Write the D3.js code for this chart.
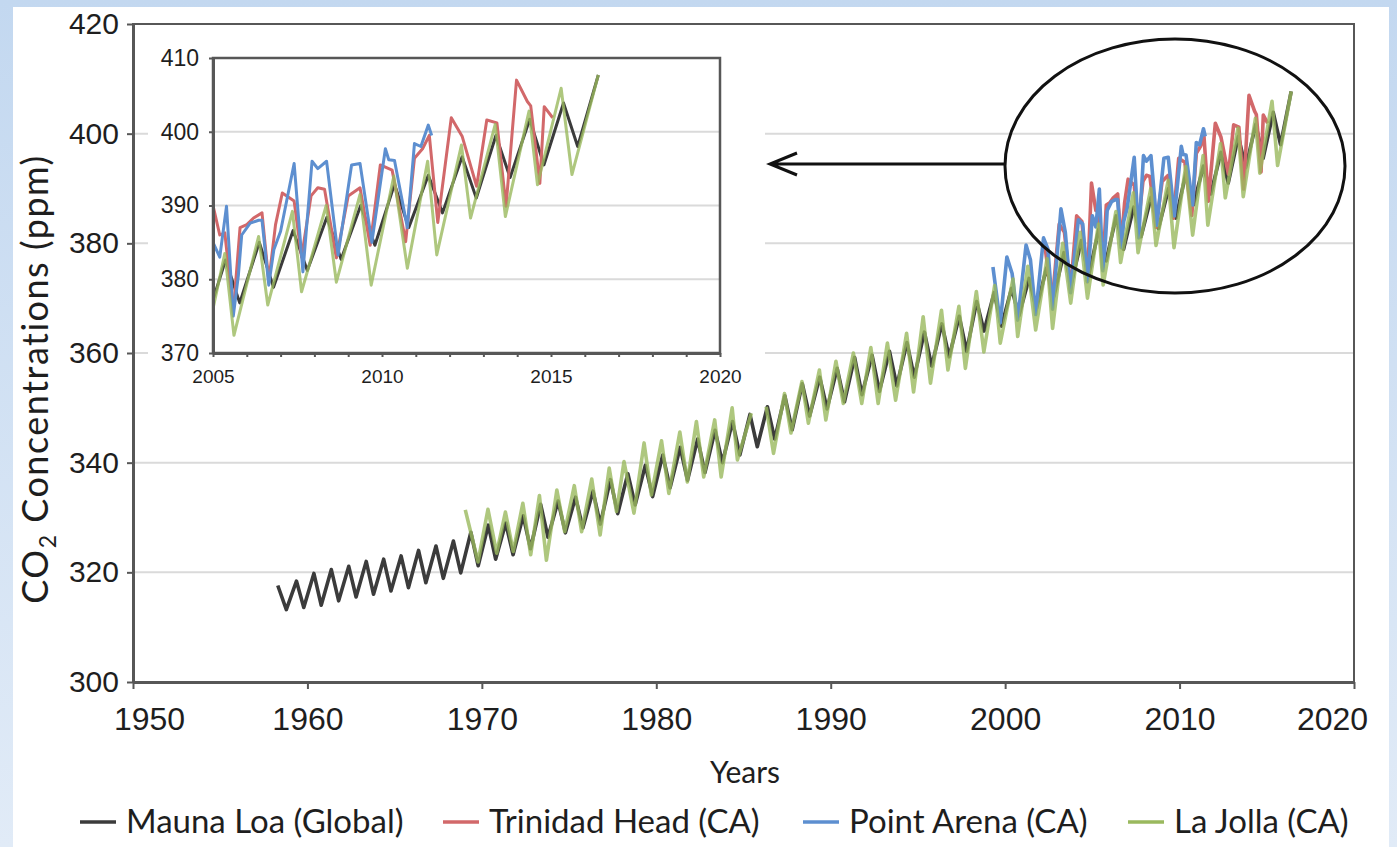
<!DOCTYPE html>
<html>
<head>
<meta charset="utf-8">
<script src="https://cdn.jsdelivr.net/npm/d3@7"></script>
<style>
  body { margin: 0; background: #fff; }
  svg { display: block; font-family: Lato, "Open Sans", sans-serif; }
</style>
</head>
<body>
<svg id="chart" width="1397" height="847"></svg>
<script>

// Monthly-ish CO2 readings [decimal year, ppm]
var maunaLoa = [
  [1958.30, 317.6], [1958.79, 313.2], [1959.37, 318.4], [1959.79, 313.6],
  [1960.37, 319.8], [1960.79, 314.0], [1961.37, 320.5], [1961.79, 314.8],
  [1962.37, 321.1], [1962.79, 315.5], [1963.37, 322.0], [1963.79, 316.0],
  [1964.37, 322.4], [1964.79, 316.6], [1965.37, 323.0], [1965.79, 317.2],
  [1966.37, 324.0], [1966.79, 318.1], [1967.37, 324.8], [1967.79, 318.9],
  [1968.37, 325.7], [1968.79, 319.9], [1969.37, 327.3], [1969.79, 321.2],
  [1970.37, 328.6], [1970.79, 322.4], [1971.37, 329.0], [1971.79, 323.2],
  [1972.37, 330.3], [1972.79, 324.3], [1973.37, 332.4], [1973.79, 326.4],
  [1974.37, 333.0], [1974.79, 327.2], [1975.37, 333.7], [1975.79, 328.1],
  [1976.37, 334.8], [1976.79, 328.8], [1977.37, 336.9], [1977.79, 330.7],
  [1978.37, 338.0], [1978.79, 332.3], [1979.37, 339.5], [1979.79, 333.8],
  [1980.37, 341.4], [1980.79, 335.4], [1981.37, 342.8], [1981.79, 336.8],
  [1982.37, 344.3], [1982.79, 338.2], [1983.37, 345.9], [1983.79, 340.0],
  [1984.37, 347.5], [1984.79, 341.4], [1985.37, 348.8], [1985.79, 342.9],
  [1986.37, 350.2], [1986.79, 344.3], [1987.37, 352.2], [1987.79, 346.0],
  [1988.37, 354.4], [1988.79, 348.5], [1989.37, 355.6], [1989.79, 349.8],
  [1990.37, 357.2], [1990.79, 351.1], [1991.37, 359.2], [1991.79, 352.4],
  [1992.37, 359.6], [1992.79, 353.0], [1993.37, 360.3], [1993.79, 354.0],
  [1994.37, 361.9], [1994.79, 355.6], [1995.37, 363.8], [1995.79, 357.6],
  [1996.37, 365.3], [1996.79, 359.3], [1997.37, 366.7], [1997.79, 360.3],
  [1998.37, 369.4], [1998.79, 364.0], [1999.37, 371.0], [1999.79, 364.9],
  [2000.37, 371.8], [2000.79, 366.8], [2001.37, 373.6], [2001.79, 368.0],
  [2002.37, 375.5], [2002.79, 370.3], [2003.37, 378.3], [2003.79, 372.6],
  [2004.37, 380.5], [2004.79, 374.1], [2005.37, 382.6], [2005.79, 376.8],
  [2006.37, 385.0], [2006.79, 378.9], [2007.37, 386.6], [2007.79, 381.2],
  [2008.37, 388.4], [2008.79, 382.7], [2009.37, 390.0], [2009.79, 384.6],
  [2010.37, 392.9], [2010.79, 387.0], [2011.37, 394.1], [2011.79, 389.0],
  [2012.37, 396.6], [2012.79, 391.0], [2013.37, 399.5], [2013.79, 393.8],
  [2014.37, 401.7], [2014.79, 395.5], [2015.37, 403.9], [2015.79, 398.0],
  [2016.40, 407.7]
];

var trinidadHead = [
  [2002.30, 379.0], [2002.70, 369.5], [2003.10, 383.5], [2003.40, 382.0],
  [2003.75, 371.5], [2004.10, 385.0], [2004.40, 384.0], [2004.72, 373.0],
  [2004.95, 391.0], [2005.05, 389.0], [2005.20, 386.0], [2005.35, 386.3],
  [2005.60, 375.5], [2005.80, 387.0], [2006.00, 387.4], [2006.20, 388.3],
  [2006.45, 389.0], [2006.65, 379.7], [2006.85, 387.4], [2007.05, 391.7],
  [2007.40, 390.6], [2007.62, 383.0], [2007.90, 391.3], [2008.10, 392.4],
  [2008.30, 392.2], [2008.65, 382.9], [2009.00, 391.3], [2009.35, 392.4],
  [2009.65, 384.6], [2009.95, 395.5], [2010.30, 394.8], [2010.70, 385.1],
  [2010.96, 396.4], [2011.20, 397.7], [2011.40, 399.5], [2011.65, 387.7],
  [2012.05, 401.9], [2012.37, 399.4], [2012.80, 392.6], [2013.10, 401.6],
  [2013.40, 401.2], [2013.67, 389.9], [2013.98, 407.0], [2014.30, 404.1],
  [2014.40, 403.5], [2014.67, 393.0], [2014.80, 403.4], [2015.05, 401.9]
];

var pointArena = [
  [1999.30, 375.7], [1999.72, 365.5], [2000.10, 377.5], [2000.40, 374.5],
  [2000.72, 366.0], [2001.20, 379.7], [2001.45, 377.0], [2001.75, 367.0],
  [2002.20, 381.0], [2002.45, 379.0], [2002.72, 368.0], [2003.20, 386.3],
  [2003.45, 382.0], [2003.75, 371.0], [2004.20, 384.3], [2004.45, 383.5],
  [2004.72, 373.0], [2005.00, 385.0], [2005.20, 383.0], [2005.40, 389.9],
  [2005.60, 375.0], [2005.75, 380.5], [2005.85, 386.0], [2006.10, 387.6],
  [2006.35, 388.0], [2006.45, 388.0], [2006.65, 379.2], [2006.80, 384.0],
  [2007.00, 386.5], [2007.40, 395.7], [2007.66, 381.0], [2007.93, 396.0],
  [2008.10, 395.0], [2008.36, 396.0], [2008.70, 383.3], [2009.10, 395.5],
  [2009.35, 395.7], [2009.70, 385.0], [2010.10, 397.7], [2010.20, 396.2],
  [2010.37, 396.1], [2010.75, 387.0], [2010.96, 398.4], [2011.15, 398.0],
  [2011.37, 400.9], [2011.47, 399.5]
];

// null marks the 1985-86 gap in the La Jolla record
var laJolla = [
  [1969.05, 331.4], [1969.78, 321.9], [1970.35, 331.5], [1970.85, 323.5],
  [1971.35, 331.0], [1971.80, 323.8], [1972.35, 332.6], [1972.80, 323.2],
  [1973.30, 334.0], [1973.70, 322.2], [1974.30, 335.0], [1974.75, 327.4],
  [1975.30, 335.8], [1975.72, 327.4], [1976.30, 337.0], [1976.78, 326.8],
  [1977.30, 339.0], [1977.72, 331.1], [1978.15, 340.2], [1978.72, 330.8],
  [1979.30, 343.6], [1979.72, 334.1], [1980.30, 344.0], [1980.72, 334.4],
  [1981.35, 345.6], [1981.78, 336.5], [1982.30, 347.5], [1982.72, 337.4],
  [1983.35, 347.8], [1983.72, 337.4], [1984.35, 350.0], [1984.65, 340.5],
  [1985.45, 349.0], [1985.50, null],
  [1986.30, 350.2], [1986.72, 341.7], [1987.35, 352.6], [1987.72, 345.4],
  [1988.35, 354.8], [1988.72, 347.2], [1989.35, 356.9], [1989.72, 347.8],
  [1990.30, 358.5], [1990.72, 350.8], [1991.30, 360.0], [1991.78, 350.8],
  [1992.30, 361.0], [1992.72, 350.8], [1993.25, 361.8], [1993.72, 351.4],
  [1994.35, 363.6], [1994.75, 352.9], [1995.30, 366.6], [1995.72, 354.5],
  [1996.35, 367.8], [1996.72, 356.9], [1997.35, 368.5], [1997.72, 357.2],
  [1998.35, 371.2], [1998.78, 360.2], [1999.40, 372.3], [1999.72, 361.8],
  [2000.45, 373.5], [2000.72, 363.0], [2001.30, 375.8], [2001.75, 364.2],
  [2002.40, 377.2], [2002.72, 364.5], [2003.30, 380.0], [2003.76, 369.1],
  [2004.30, 382.0], [2004.72, 370.0], [2005.35, 383.5], [2005.62, 372.4],
  [2006.35, 385.8], [2006.62, 376.5], [2007.35, 389.2], [2007.62, 378.3],
  [2008.35, 390.0], [2008.65, 379.6], [2009.35, 391.5], [2009.68, 379.2],
  [2010.35, 394.0], [2010.75, 381.5], [2011.35, 396.0], [2011.62, 383.3],
  [2012.35, 398.2], [2012.62, 388.3], [2013.35, 401.0], [2013.65, 388.5],
  [2014.35, 402.8], [2014.60, 392.8], [2015.30, 405.9], [2015.62, 394.2],
  [2016.40, 407.7]
];

var seriesNames = ["Mauna Loa (Global)", "Trinidad Head (CA)", "Point Arena (CA)", "La Jolla (CA)"];
var seriesData = [maunaLoa, trinidadHead, pointArena, laJolla];

var yearTicks = [1950, 1960, 1970, 1980, 1990, 2000, 2010, 2020];
var ppmTicks = [300, 320, 340, 360, 380, 400, 420];
var insetYearTicks = [2005, 2010, 2015, 2020];
var insetPpmTicks = [370, 380, 390, 400, 410];

// Styling
var colors = ["#3b3b3b", "#d2686a", "#5d8fd0", "#9ab95e"];
var opacities = [1, 1, 1, 0.8];   // La Jolla blends with Mauna Loa underneath
var axisColor = "#575757";
var gridColor = "#dadada";
var textColor = "#1e1e1e";

var svg = d3.select("#chart");

// Light blue slide background with white panel
var defs = svg.append("defs");
var bg = defs.append("linearGradient")
    .attr("id", "bg")
    .attr("x1", "0%").attr("y1", "0%")
    .attr("x2", "0%").attr("y2", "100%");
bg.append("stop").attr("offset", "0%").attr("stop-color", "#c3d8f0");
bg.append("stop").attr("offset", "100%").attr("stop-color", "#e1ebf7");

svg.append("rect").attr("width", 1397).attr("height", 847).attr("fill", "url(#bg)");
svg.append("rect")
    .attr("x", 13).attr("y", 7)
    .attr("width", 1376).attr("height", 840)
    .attr("fill", "#fff");

// Main chart scales
var x = d3.scaleLinear().domain([1950, 2020]).range([133, 1354]);
var y = d3.scaleLinear().domain([300, 420]).range([682, 24]);

// Horizontal gridlines
svg.append("g")
  .selectAll("line")
  .data(ppmTicks.slice(1, -1))
  .enter()
  .append("line")
    .attr("x1", x(1950)).attr("x2", x(2020))
    .attr("y1", function(d) { return y(d); })
    .attr("y2", function(d) { return y(d); })
    .attr("stroke", gridColor)
    .attr("stroke-width", 2);

// Plot frame
svg.append("rect")
    .attr("x", x(1950)).attr("y", y(420))
    .attr("width", x(2020) - x(1950)).attr("height", y(300) - y(420))
    .attr("fill", "none")
    .attr("stroke", axisColor)
    .attr("stroke-width", 2);

function styleAxis(g, size, width) {
    g.select(".domain").attr("stroke", axisColor).attr("stroke-width", width);
    g.selectAll(".tick line").attr("stroke", axisColor).attr("stroke-width", 2);
    g.selectAll(".tick text")
      .attr("fill", textColor)
      .style("font-size", size + "px");
}

var xAxis = d3.axisBottom(x)
    .tickValues(yearTicks)
    .tickFormat(d3.format("d"))
    .tickSize(7)
    .tickSizeOuter(0)
    .tickPadding(18);

var xAxisG = svg.append("g")
    .attr("transform", "translate(0," + y(300) + ")")
    .call(xAxis)
    .call(styleAxis, 32, 3);

// first and last year labels sit a little inside the frame
xAxisG.selectAll(".tick text")
    .attr("dx", function(d) { return d === 1950 ? 16 : (d === 2020 ? -22 : 0); });

var yAxis = d3.axisLeft(y)
    .tickValues(ppmTicks)
    .tickSize(6)
    .tickSizeOuter(0)
    .tickPadding(8);

svg.append("g")
    .attr("transform", "translate(" + x(1950) + ",0)")
    .call(yAxis)
    .call(styleAxis, 30, 3);

// Axis titles
var yTitle = svg.append("text")
    .attr("transform", "translate(48,379) rotate(-90)")
    .attr("text-anchor", "middle")
    .attr("fill", textColor)
    .style("font-size", "36px")
    .style("letter-spacing", "1.5px");
yTitle.append("tspan").text("CO");
yTitle.append("tspan").text("2").attr("dy", 8).style("font-size", "23px");
yTitle.append("tspan").text(" Concentrations (ppm)").attr("dy", -8);

svg.append("text")
    .attr("x", 745).attr("y", 783)
    .attr("text-anchor", "middle")
    .attr("fill", textColor)
    .style("font-size", "30px")
    .text("Years");

// Series lines
var line = d3.line()
    .defined(function(d) { return d[1] != null; })
    .x(function(d) { return x(d[0]); })
    .y(function(d) { return y(d[1]); });

seriesData.forEach(function(data, i) {
    svg.append("path")
      .datum(data)
      .attr("d", line)
      .attr("fill", "none")
      .attr("stroke", colors[i])
      .attr("stroke-opacity", opacities[i])
      .attr("stroke-width", 3.6)
      .attr("stroke-linejoin", "round");
});

// Inset: zoom on 2005-2020
var inset = svg.append("g").attr("class", "inset");

inset.append("rect")
    .attr("x", 148).attr("y", 42)
    .attr("width", 617).attr("height", 356)
    .attr("fill", "#fff");

var xi = d3.scaleLinear().domain([2005, 2020]).range([213, 720]);
var yi = d3.scaleLinear().domain([370, 410]).range([353, 58]);

inset.append("g")
  .selectAll("line")
  .data(insetPpmTicks.slice(1, -1))
  .enter()
  .append("line")
    .attr("x1", xi(2005)).attr("x2", xi(2020))
    .attr("y1", function(d) { return yi(d); })
    .attr("y2", function(d) { return yi(d); })
    .attr("stroke", gridColor)
    .attr("stroke-width", 2);

defs.append("clipPath")
    .attr("id", "insetClip")
  .append("rect")
    .attr("x", xi(2005)).attr("y", yi(410))
    .attr("width", xi(2020) - xi(2005)).attr("height", yi(370) - yi(410));

var insetLine = d3.line()
    .defined(function(d) { return d[1] != null; })
    .x(function(d) { return xi(d[0]); })
    .y(function(d) { return yi(d[1]); });

var insetSeries = inset.append("g").attr("clip-path", "url(#insetClip)");
seriesData.forEach(function(data, i) {
    insetSeries.append("path")
      .datum(data)
      .attr("d", insetLine)
      .attr("fill", "none")
      .attr("stroke", colors[i])
      .attr("stroke-opacity", opacities[i])
      .attr("stroke-width", 3)
      .attr("stroke-linejoin", "round");
});

inset.append("rect")
    .attr("x", xi(2005)).attr("y", yi(410))
    .attr("width", xi(2020) - xi(2005)).attr("height", yi(370) - yi(410))
    .attr("fill", "none")
    .attr("stroke", axisColor)
    .attr("stroke-width", 2.5);

var xiAxis = d3.axisBottom(xi)
    .tickValues(d3.range(2005, 2021))
    .tickFormat(function(d) { return insetYearTicks.indexOf(d) >= 0 ? d : ""; })
    .tickSize(4)
    .tickSizeOuter(0)
    .tickPadding(13);

inset.append("g")
    .attr("transform", "translate(0," + yi(370) + ")")
    .call(xiAxis)
    .call(styleAxis, 19, 3);

var yiAxis = d3.axisLeft(yi)
    .tickValues(insetPpmTicks)
    .tickSize(4)
    .tickSizeOuter(0)
    .tickPadding(10);

inset.append("g")
    .attr("transform", "translate(" + xi(2005) + ",0)")
    .call(yiAxis)
    .call(styleAxis, 23, 3);

// Ellipse around recent data and arrow pointing to the inset
svg.append("ellipse")
    .attr("cx", 1175).attr("cy", 166)
    .attr("rx", 170).attr("ry", 127)
    .attr("fill", "none")
    .attr("stroke", "#111")
    .attr("stroke-width", 3);

svg.append("path")
    .attr("d", "M1005,164 H770 M797,153 L770,164 L797,175")
    .attr("fill", "none")
    .attr("stroke", "#111")
    .attr("stroke-width", 3);

// Legend
var legendX = [80, 443, 803, 1128];
var legend = svg.append("g")
  .selectAll("g")
  .data(seriesNames)
  .enter()
  .append("g")
    .attr("transform", function(d, i) { return "translate(" + legendX[i] + ",822)"; });

legend.append("line")
    .attr("x1", 0).attr("x2", 36)
    .attr("stroke", function(d, i) { return colors[i]; })
    .attr("stroke-width", 3.5);

legend.append("text")
    .attr("x", 46).attr("y", 11)
    .attr("fill", textColor)
    .style("font-size", "33px")
    .text(function(d) { return d; });

</script>
</body>
</html>
